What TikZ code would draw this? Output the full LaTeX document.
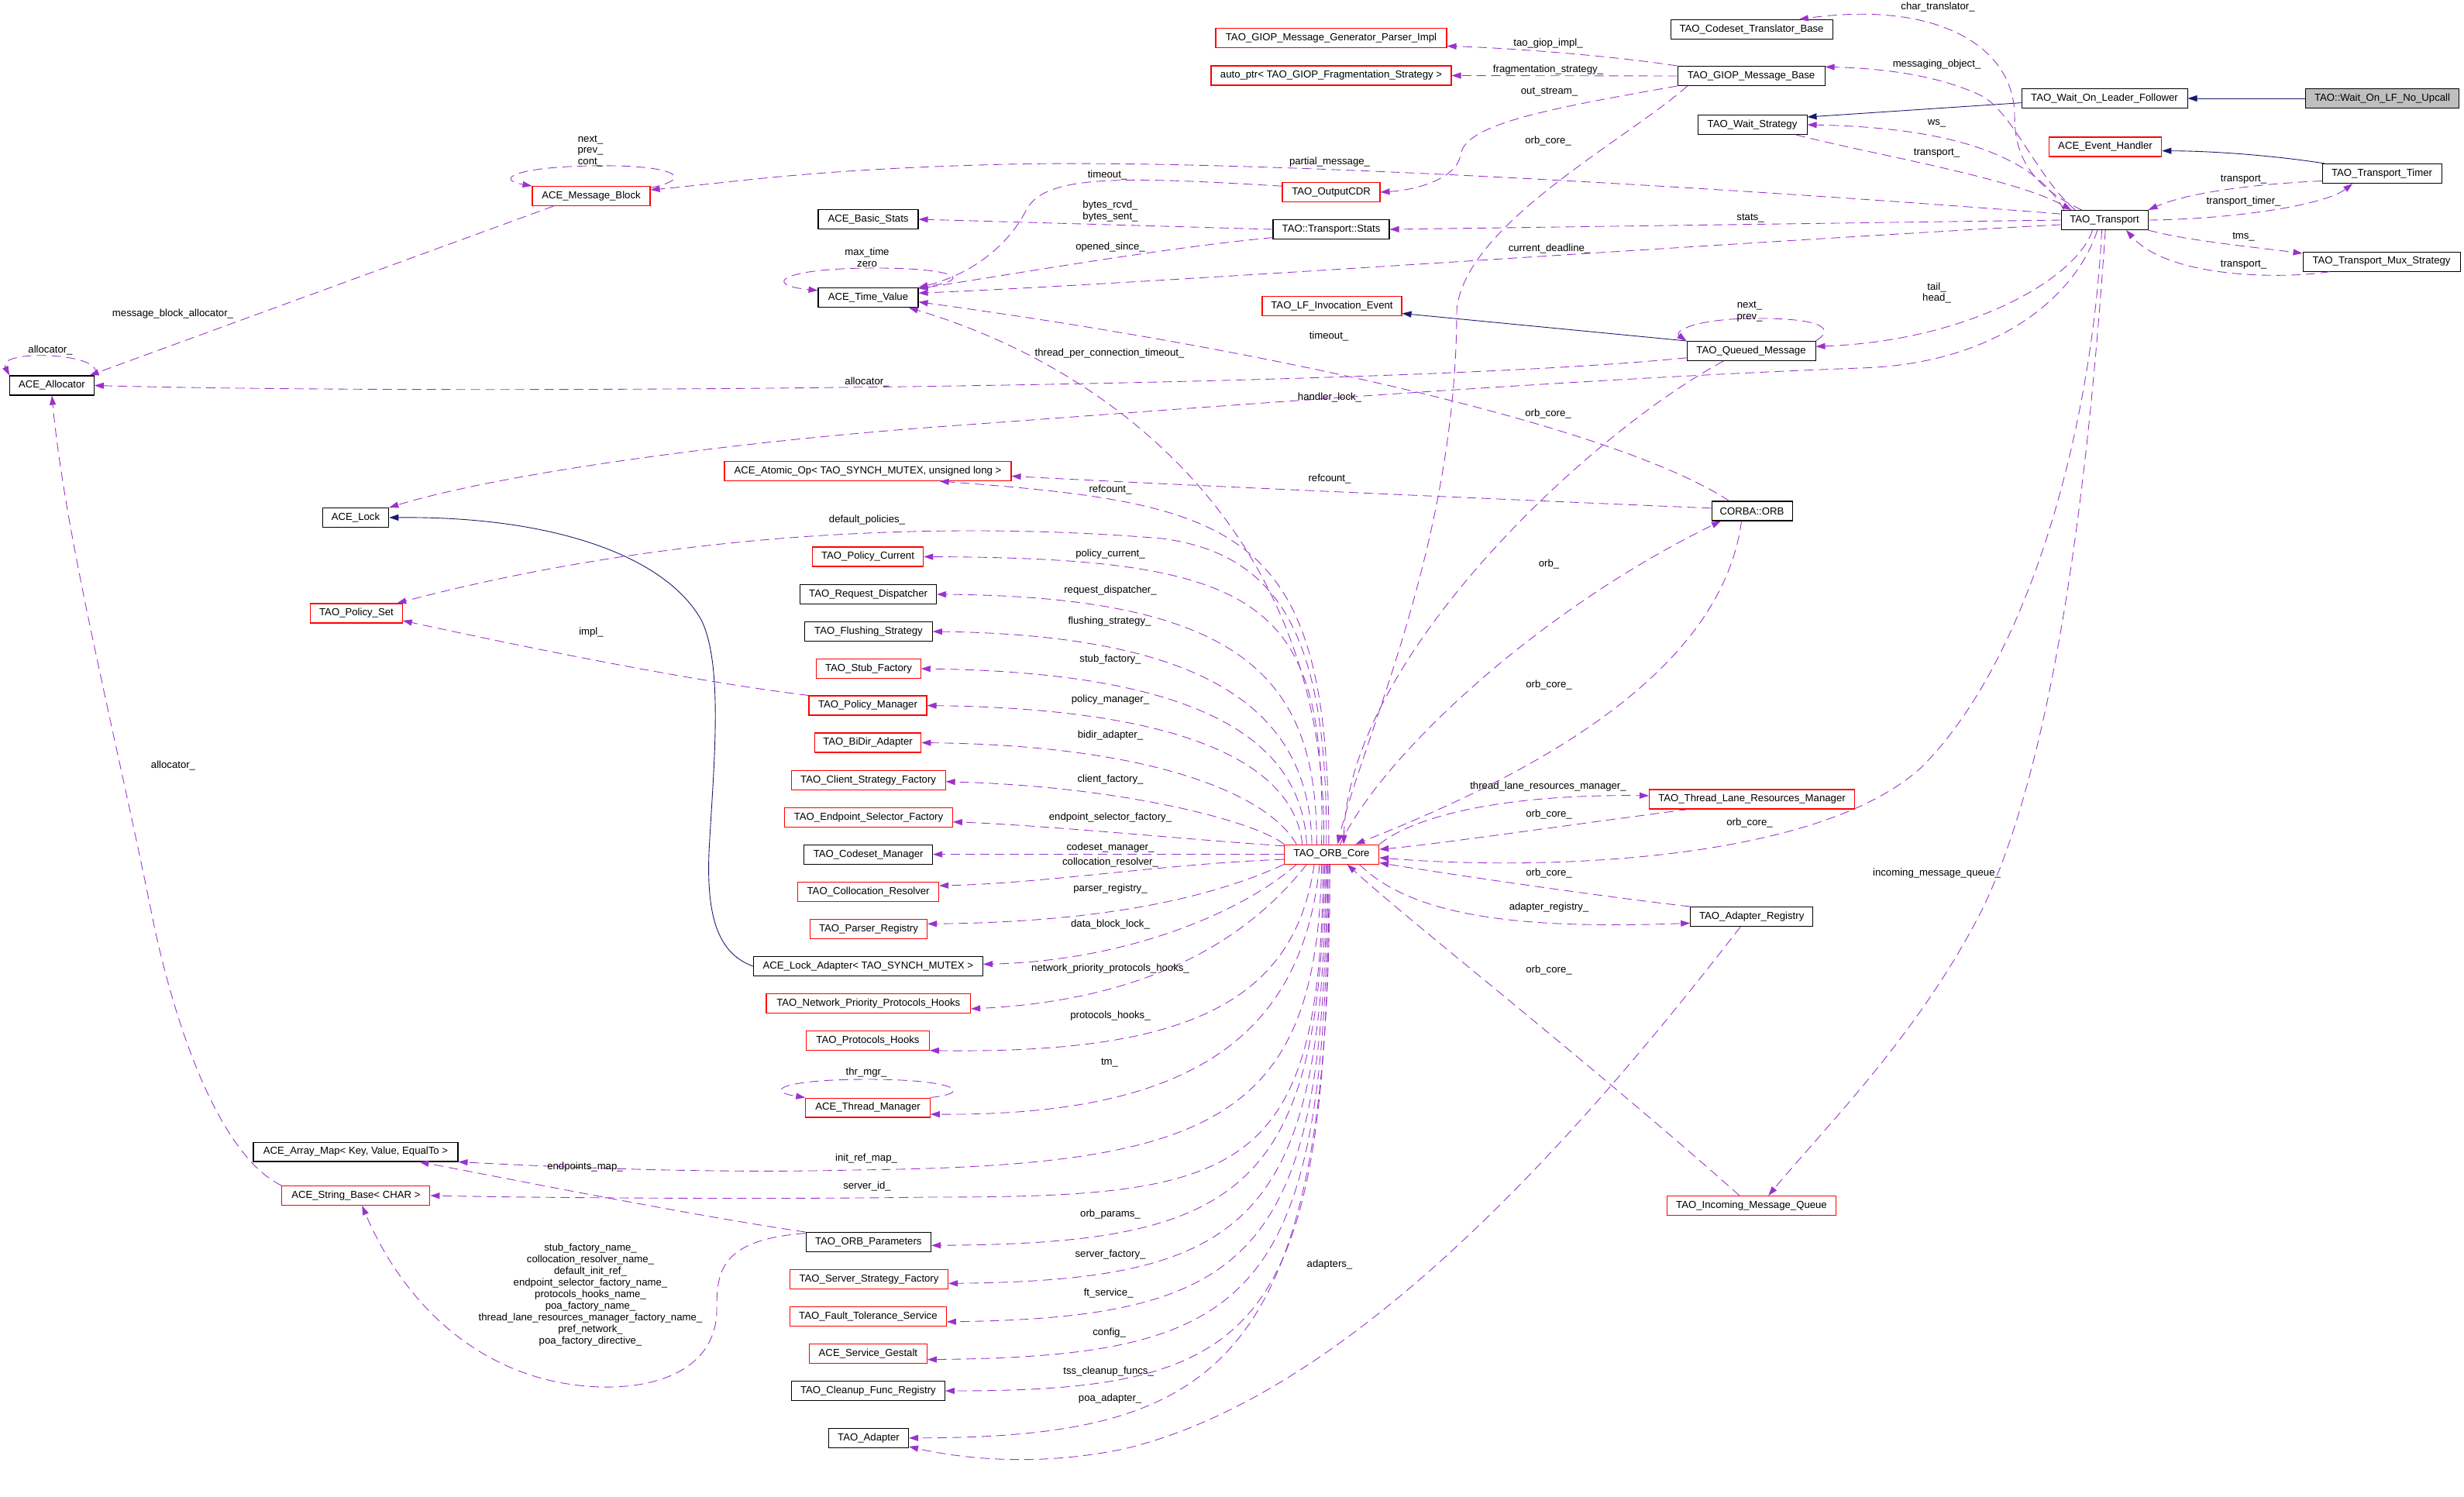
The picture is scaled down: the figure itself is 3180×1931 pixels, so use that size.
\documentclass[tikz,border=0pt]{standalone}
\usepackage{fontspec}
\setmainfont{Liberation Sans}
\usetikzlibrary{arrows.meta}
\definecolor{edgeviolet}{HTML}{9A32CD}
\definecolor{edgenavy}{HTML}{191970}
\definecolor{boxgrey}{HTML}{BFBFBF}
\tikzset{
  cls/.style={rectangle,draw=black,fill=white,line width=0.6pt,minimum height=0.5cm,
    inner sep=0pt,font=\fontsize{7.5}{9}\selectfont},
  clsred/.style={cls,draw=red},
  clsgrey/.style={cls,fill=boxgrey},
  wd/.style={minimum width=#1*0.02cm},
  member/.style={draw=edgeviolet,line width=0.5pt,dash pattern=on 0.24cm off 0.14cm,
    -{Triangle[length=0.24cm,width=0.16cm]}},
  inherit/.style={draw=edgenavy,line width=0.5pt,-{Triangle[length=0.24cm,width=0.16cm]}},
  lbl/.style={font=\fontsize{7.5}{8.5}\selectfont,align=center,inner sep=0pt},
}
\begin{document}
\begin{tikzpicture}[x=0.02cm,y=-0.02cm]
  \path[use as bounding box,fill=white] (0,0) rectangle (3180,1931);

  \node[clsgrey,wd=198] (wolfnu) at (3074.5,127) {TAO::Wait\_On\_LF\_No\_Upcall};
  \node[cls,wd=214] (wolf) at (2716,127) {TAO\_Wait\_On\_Leader\_Follower};
  \node[cls,wd=141] (ws) at (2261.5,161) {TAO\_Wait\_Strategy};
  \node[cls,wd=209] (ctb) at (2260.5,38) {TAO\_Codeset\_Translator\_Base};
  \node[cls,wd=190] (gmb) at (2260,98) {TAO\_GIOP\_Message\_Base};
  \node[clsred,wd=298] (gpi) at (1718,49) {TAO\_GIOP\_Message\_Generator\_Parser\_Impl};
  \node[clsred,wd=310] (frag) at (1718,97.5) {auto\_ptr< TAO\_GIOP\_Fragmentation\_Strategy >};
  \node[clsred,wd=145.5] (aeh) at (2717,189.5) {ACE\_Event\_Handler};
  \node[cls,wd=154] (ttimer) at (3074,224) {TAO\_Transport\_Timer};
  \node[cls,wd=112] (trans) at (2716,284) {TAO\_Transport};
  \node[cls,wd=203] (tms) at (3073.5,337.6) {TAO\_Transport\_Mux\_Strategy};
  \node[clsred,wd=126] (cdr) at (1718,248) {TAO\_OutputCDR};
  \node[cls,wd=150] (stats) at (1718,296) {TAO::Transport::Stats};
  \node[clsred,wd=180] (lfie) at (1719,395) {TAO\_LF\_Invocation\_Event};
  \node[cls,wd=166] (tqm) at (2260,453) {TAO\_Queued\_Message};
  \node[clsred,wd=152] (mblk) at (763,253) {ACE\_Message\_Block};
  \node[cls,wd=129] (bstats) at (1120.5,283) {ACE\_Basic\_Stats};
  \node[cls,wd=129] (tval) at (1120.5,384) {ACE\_Time\_Value};
  \node[cls,wd=108.6] (alloc) at (67,497.5) {ACE\_Allocator};
  \node[clsred,wd=370] (atomic) at (1120,608) {ACE\_Atomic\_Op< TAO\_SYNCH\_MUTEX, unsigned long >};
  \node[cls,wd=104] (orb) at (2261,659.5) {CORBA::ORB};
  \node[cls,wd=85.5] (lock) at (459,668) {ACE\_Lock};
  \node[clsred,wd=118.5] (pset) at (460,791.5) {TAO\_Policy\_Set};
  \node[clsred,wd=143.5] (pcur) at (1120,718.5) {TAO\_Policy\_Current};
  \node[cls,wd=176] (rdisp) at (1120.6,767) {TAO\_Request\_Dispatcher};
  \node[cls,wd=164.6] (flush) at (1121,815) {TAO\_Flushing\_Strategy};
  \node[clsred,wd=134.4] (stubf) at (1121,863) {TAO\_Stub\_Factory};
  \node[clsred,wd=152] (pmgr) at (1120,910.5) {TAO\_Policy\_Manager};
  \node[clsred,wd=137.5] (bidir) at (1120,958.5) {TAO\_BiDir\_Adapter};
  \node[clsred,wd=199] (csf) at (1120.6,1007) {TAO\_Client\_Strategy\_Factory};
  \node[clsred,wd=216.6] (esf) at (1121,1055) {TAO\_Endpoint\_Selector\_Factory};
  \node[cls,wd=165.8] (csm) at (1120.7,1102.6) {TAO\_Codeset\_Manager};
  \node[clsred,wd=182] (colr) at (1120.6,1151) {TAO\_Collocation\_Resolver};
  \node[clsred,wd=151] (preg) at (1121,1199) {TAO\_Parser\_Registry};
  \node[cls,wd=296] (lockad) at (1120.4,1247) {ACE\_Lock\_Adapter< TAO\_SYNCH\_MUTEX >};
  \node[clsred,wd=263.6] (nph) at (1120.8,1295) {TAO\_Network\_Priority\_Protocols\_Hooks};
  \node[clsred,wd=158.7] (phooks) at (1120,1342.7) {TAO\_Protocols\_Hooks};
  \node[clsred,wd=160.5] (thrmgr) at (1120,1429.5) {ACE\_Thread\_Manager};
  \node[cls,wd=264] (amap) at (459,1486.5) {ACE\_Array\_Map< Key, Value, EqualTo >};
  \node[clsred,wd=191] (strbase) at (459.4,1543) {ACE\_String\_Base< CHAR >};
  \node[cls,wd=161.5] (oparams) at (1120.8,1603) {TAO\_ORB\_Parameters};
  \node[clsred,wd=204] (ssf) at (1121.5,1651) {TAO\_Server\_Strategy\_Factory};
  \node[clsred,wd=202] (fts) at (1120.4,1698.8) {TAO\_Fault\_Tolerance\_Service};
  \node[clsred,wd=152] (gestalt) at (1120.4,1746.6) {ACE\_Service\_Gestalt};
  \node[cls,wd=198] (cleanup) at (1120.4,1795) {TAO\_Cleanup\_Func\_Registry};
  \node[cls,wd=103] (adapter) at (1121,1855.8) {TAO\_Adapter};
  \node[clsred,wd=122] (core) at (1718.6,1102.6) {TAO\_ORB\_Core};
  \node[clsred,wd=265] (tlrm) at (2261,1031.5) {TAO\_Thread\_Lane\_Resources\_Manager};
  \node[cls,wd=158] (areg) at (2260.7,1183) {TAO\_Adapter\_Registry};
  \node[clsred,wd=218] (imq) at (2260.5,1556) {TAO\_Incoming\_Message\_Queue};

  \draw[inherit] (wolfnu.west) -- (wolf.east);
  \draw[inherit] (wolf.183) -- (ws.8);
  \draw[inherit] (ttimer.170) .. controls (2950,203) and (2870,195) .. (aeh.-4);
  \draw[inherit] (tqm.north west) -- (lfie.-6);
  \draw[inherit] (lockad.west) .. controls (925,1230) and (912,1180) .. (915,1100)
    .. controls (920,1000) and (935,860) .. (905,800)
    .. controls (860,720) and (720,666) .. (lock.east);

  \draw[member] (alloc.north east) .. controls (140,455) and (-5,450) .. (alloc.north west)
    node[lbl] at (65,452) {allocator\_};
  \draw[member] (mblk.8) .. controls (900,230) and (870,212) .. (763,214)
    .. controls (660,216) and (640,232) .. (mblk.north west)
    node[lbl] at (762,195) {next\_\\prev\_\\cont\_};
  \draw[member] (tval.north east) .. controls (1265,362) and (1235,345) .. (1120,346)
    .. controls (1005,347) and (985,368) .. (tval.172)
    node[lbl] at (1119,332) {max\_time\\zero};
  \draw[member] (tqm.north east) .. controls (2375,420) and (2335,410) .. (2260,411)
    .. controls (2185,412) and (2160,428) .. (tqm.north west)
    node[lbl] at (2258,402.5) {next\_\\prev\_};
  \draw[member] (thrmgr.north east) .. controls (1260,1410) and (1230,1393) .. (1120,1393)
    .. controls (1010,1393) and (985,1408) .. (thrmgr.north west)
    node[lbl] at (1118,1383.7) {thr\_mgr\_};

  \draw[member] (mblk.195) -- (alloc.15) node[lbl] at (223,405) {message\_block\_allocator\_};
  \draw[member] (trans.172) .. controls (2200,240) and (1600,205) .. (1300,212)
    .. controls (1050,218) and (950,235) .. (mblk.6)
    node[lbl] at (1716,209) {partial\_message\_};
  \draw[member] (stats.west) -- (bstats.east) node[lbl] at (1433,272.5) {bytes\_rcvd\_\\bytes\_sent\_};
  \draw[member] (stats.188) .. controls (1500,320) and (1300,355) .. (tval.10)
    node[lbl] at (1433,319) {opened\_since\_};
  \draw[member] (cdr.173) .. controls (1450,228) and (1350,225) .. (1325,270)
    .. controls (1300,320) and (1250,355) .. (tval.north east)
    node[lbl] at (1429,226) {timeout\_};
  \draw[member] (trans.west) -- (stats.east) node[lbl] at (2259,282) {stats\_};
  \draw[member] (trans.186) .. controls (2200,315) and (1500,365) .. (tval.5)
    node[lbl] at (1999.5,321) {current\_deadline\_};
  \draw[member] (orb.156) .. controls (2100,560) and (1700,460) .. (tval.-5)
    node[lbl] at (1715,434.5) {timeout\_};
  \draw[member] (core.128) .. controls (1715,700) and (1450,480) .. (tval.-14)
    node[lbl] at (1432,456) {thread\_per\_connection\_timeout\_};
  \draw[member] (tqm.186) .. controls (1800,500) and (600,510) .. (alloc.east)
    node[lbl] at (1119,493) {allocator\_};
  \draw[member] (trans.-125) .. controls (2680,380) and (2580,470) .. (2400,475)
    .. controls (2000,490) and (1500,530) .. (1208,551)
    .. controls (950,570) and (650,610) .. (lock.north east)
    node[lbl] at (1716,513) {handler\_lock\_};
  \draw[member] (trans.-140) .. controls (2680,360) and (2540,440) .. (tqm.4)
    node[lbl] at (2499.5,378) {tail\_\\head\_};
  \draw[member] (tqm.-160) .. controls (2050,560) and (1740,850) .. (core.40)
    node[lbl] at (1998,534) {orb\_core\_};
  \draw[member] (gmb.-171) .. controls (2100,180) and (1890,290) .. (1880,400)
    .. controls (1880,700) and (1760,950) .. (core.60)
    node[lbl] at (1998,182) {orb\_core\_};
  \draw[member] (orb.176) .. controls (1950,645) and (1500,625) .. (atomic.-2)
    node[lbl] at (1716,618) {refcount\_};
  \draw[member] (core.106) .. controls (1715,680) and (1600,650) .. (atomic.-8)
    node[lbl] at (1433,632) {refcount\_};
  \draw[member] (core.50) .. controls (1780,980) and (1980,790) .. (orb.-162)
    node[lbl] at (1999,728) {orb\_};
  \draw[member] (orb.-136) .. controls (2220,880) and (1950,1010) .. (core.23)
    node[lbl] at (1999,884) {orb\_core\_};
  \draw[member] (core.north east) .. controls (1830,1050) and (1950,1025) .. (tlrm.178)
    node[lbl] at (1998,1015) {thread\_lane\_resources\_manager\_};
  \draw[member] (tlrm.-171) .. controls (2000,1068) and (1850,1090) .. (core.6)
    node[lbl] at (1999,1051) {orb\_core\_};
  \draw[member] (trans.-105) .. controls (2700,550) and (2620,850) .. (2480,990)
    .. controls (2350,1110) and (2000,1125) .. (core.-4)
    node[lbl] at (2258,1062) {orb\_core\_};
  \draw[member] (trans.-85) .. controls (2690,700) and (2640,1000) .. (2560,1170)
    .. controls (2480,1330) and (2360,1450) .. (imq.31)
    node[lbl] at (2499.5,1127) {incoming\_message\_queue\_};
  \draw[member] (areg.north west) .. controls (2050,1155) and (1850,1125) .. (core.-10)
    node[lbl] at (1999,1127.5) {orb\_core\_};
  \draw[member] (core.-20) .. controls (1820,1180) and (1950,1200) .. (areg.186)
    node[lbl] at (1999,1171.5) {adapter\_registry\_};
  \draw[member] (imq.140) .. controls (2050,1370) and (1820,1190) .. (core.-33)
    node[lbl] at (1999,1252) {orb\_core\_};
  \draw[member] (areg.-138) .. controls (2050,1450) and (1750,1800) .. (1450,1870)
    .. controls (1330,1895) and (1230,1880) .. (adapter.-12)
    node[lbl] at (1716,1632) {adapters\_};
  \draw[member] (core.-100) .. controls (1716,1760) and (1580,1855) .. (adapter.east)
    node[lbl] at (1432.6,1805.4) {poa\_adapter\_};

  \draw[member] (core.west) -- (csm.east) node[lbl] at (1433,1093.6) {codeset\_manager\_};
  \draw[member] (core.170) .. controls (1550,1085) and (1350,1065) .. (esf.-3.5)
    node[lbl] at (1433,1055) {endpoint\_selector\_factory\_};
  \draw[member] (core.168) .. controls (1620,1060) and (1450,1015) .. (csf.-1)
    node[lbl] at (1433,1006.5) {client\_factory\_};
  \draw[member] (core.164) .. controls (1640,1030) and (1500,962) .. (bidir.east)
    node[lbl] at (1433,949) {bidir\_adapter\_};
  \draw[member] (core.161) .. controls (1670,990) and (1540,915) .. (pmgr.east)
    node[lbl] at (1433,903) {policy\_manager\_};
  \draw[member] (core.158) .. controls (1680,960) and (1560,868) .. (stubf.east)
    node[lbl] at (1433,850.6) {stub\_factory\_};
  \draw[member] (core.153) .. controls (1690,930) and (1580,820) .. (flush.east)
    node[lbl] at (1432,802) {flushing\_strategy\_};
  \draw[member] (core.146) .. controls (1700,880) and (1610,770) .. (rdisp.east)
    node[lbl] at (1433,762) {request\_dispatcher\_};
  \draw[member] (core.135) .. controls (1712,780) and (1640,720) .. (pcur.east)
    node[lbl] at (1433,715) {policy\_current\_};
  \draw[member] (core.118) .. controls (1714,820) and (1650,715) .. (1500,695)
    .. controls (1200,670) and (850,690) .. (pset.14)
    node[lbl] at (1119,671) {default\_policies\_};
  \draw[member] (pmgr.north west) .. controls (900,880) and (700,840) .. (pset.-9)
    node[lbl] at (763,816) {impl\_};

  \draw[member] (core.186) .. controls (1500,1115) and (1350,1140) .. (colr.5)
    node[lbl] at (1433,1113.5) {collocation\_resolver\_};
  \draw[member] (core.south west) .. controls (1560,1160) and (1420,1190) .. (preg.5)
    node[lbl] at (1433,1146.6) {parser\_registry\_};
  \draw[member] (core.-164) .. controls (1600,1180) and (1450,1240) .. (lockad.1)
    node[lbl] at (1433,1193.5) {data\_block\_lock\_};
  \draw[member] (core.-158) .. controls (1620,1200) and (1500,1290) .. (nph.-3)
    node[lbl] at (1433,1250) {network\_priority\_protocols\_hooks\_};
  \draw[member] (core.-150) .. controls (1670,1300) and (1520,1360) .. (phooks.south east)
    node[lbl] at (1433,1311) {protocols\_hooks\_};
  \draw[member] (core.-140) .. controls (1680,1350) and (1520,1440) .. (thrmgr.-6)
    node[lbl] at (1432,1371.6) {tm\_};
  \draw[member] (core.-135) .. controls (1700,1450) and (1560,1505) .. (1100,1510)
    .. controls (900,1515) and (700,1505) .. (amap.south east)
    node[lbl] at (1118,1494.8) {init\_ref\_map\_};
  \draw[member] (core.-130) .. controls (1705,1520) and (1600,1545) .. (1200,1545)
    .. controls (1000,1548) and (700,1546) .. (strbase.east)
    node[lbl] at (1119,1530.6) {server\_id\_};
  \draw[member] (core.-125) .. controls (1705,1540) and (1600,1605) .. (oparams.-3)
    node[lbl] at (1433,1566.8) {orb\_params\_};
  \draw[member] (core.-120) .. controls (1708,1580) and (1610,1652) .. (ssf.-3)
    node[lbl] at (1433,1618.7) {server\_factory\_};
  \draw[member] (core.-115) .. controls (1710,1620) and (1620,1700) .. (fts.-4)
    node[lbl] at (1430.6,1669.4) {ft\_service\_};
  \draw[member] (core.-110) .. controls (1712,1680) and (1620,1750) .. (gestalt.-6)
    node[lbl] at (1431.6,1719.7) {config\_};
  \draw[member] (core.-105) .. controls (1714,1720) and (1630,1795) .. (cleanup.east)
    node[lbl] at (1430.6,1769.6) {tss\_cleanup\_funcs\_};

  \draw[member] (oparams.north west) .. controls (900,1570) and (650,1520) .. (amap.-9)
    node[lbl] at (755,1505.6) {endpoints\_map\_};
  \draw[member] (oparams.172) .. controls (930,1600) and (925,1640) .. (925,1690)
    .. controls (925,1760) and (860,1792) .. (775,1790)
    .. controls (620,1785) and (520,1680) .. (strbase.-59)
    node[lbl] at (762,1671) {stub\_factory\_name\_\\collocation\_resolver\_name\_\\default\_init\_ref\_\\endpoint\_selector\_factory\_name\_\\protocols\_hooks\_name\_\\poa\_factory\_name\_\\thread\_lane\_resources\_manager\_factory\_name\_\\pref\_network\_\\poa\_factory\_directive\_};
  \draw[member] (strbase.north west) .. controls (300,1500) and (240,1380) .. (200,1200)
    .. controls (150,950) and (85,700) .. (alloc.south)
    node[lbl] at (223.5,988) {allocator\_};

  \draw[member] (trans.south east) .. controls (2820,310) and (2900,318) .. (tms.174)
    node[lbl] at (2895.5,306) {tms\_};
  \draw[member] (tms.-169) .. controls (2950,360) and (2800,360) .. (trans.-25)
    node[lbl] at (2895.5,342) {transport\_};
  \draw[member] (ttimer.187) .. controls (2900,238) and (2820,250) .. (trans.north east)
    node[lbl] at (2895.5,232) {transport\_};
  \draw[member] (trans.east) .. controls (2880,283) and (3000,265) .. (ttimer.-161)
    node[lbl] at (2895.5,260) {transport\_timer\_};
  \draw[member] (trans.166) .. controls (2630,210) and (2540,165) .. (ws.east)
    node[lbl] at (2499.5,159) {ws\_};
  \draw[member] (ws.-13) .. controls (2420,200) and (2600,230) .. (trans.163)
    node[lbl] at (2499.5,198) {transport\_};
  \draw[member] (trans.161) .. controls (2630,230) and (2600,150) .. (2560,125)
    .. controls (2500,95) and (2420,88) .. (gmb.7)
    node[lbl] at (2499.5,83) {messaging\_object\_};
  \draw[member] (trans.156) .. controls (2620,240) and (2600,200) .. (2600,150)
    .. controls (2600,60) and (2500,0) .. (ctb.12)
    node[lbl] at (2501,9) {char\_translator\_};
  \draw[member] (gmb.north west) .. controls (2080,72) and (1950,62) .. (gpi.-4)
    node[lbl] at (1998,56) {tao\_giop\_impl\_};
  \draw[member] (gmb.west) -- (frag.east) node[lbl] at (1998,90) {fragmentation\_strategy\_};
  \draw[member] (gmb.south west) .. controls (2000,140) and (1890,160) .. (1885,200)
    .. controls (1880,230) and (1830,245) .. (cdr.east)
    node[lbl] at (1999.5,119) {out\_stream\_};
\end{tikzpicture}
\end{document}
